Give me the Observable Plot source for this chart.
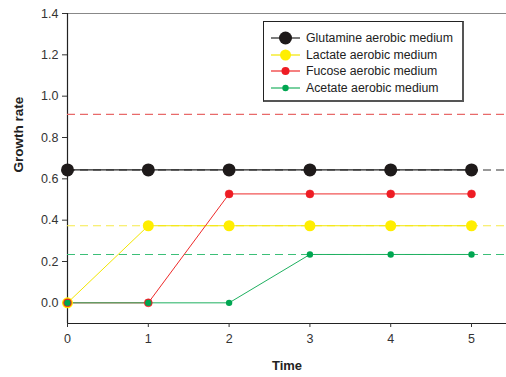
<!DOCTYPE html>
<html>
<head>
<meta charset="utf-8">
<script src="https://cdn.jsdelivr.net/npm/d3@7"></script>
<script src="https://cdn.jsdelivr.net/npm/@observablehq/plot@0.6"></script>
<style>
  body { margin: 0; background: #fff; font-family: "Liberation Sans", Arial, sans-serif; }
  #wrap { position: relative; width: 506px; height: 377px; overflow: hidden; }
  #legend { position: absolute; left: 263px; top: 21px; width: 201px; height: 81px; border: 1px solid #222; border-right: 2px solid #555; border-bottom: 2px solid #555; background: #fff; box-sizing: border-box; }
  .item { position: absolute; left: 0; height: 16px; display: flex; align-items: center; font-size: 12.3px; color: #222; }
  .item svg { margin-left: 7px; margin-right: 6px; }
</style>
</head>
<body>
<div id="wrap"><div id="legend"></div></div>
<script>
// ---- data ----
const times = [0, 1, 2, 3, 4, 5];
const seriesNames = ["Glutamine aerobic medium", "Lactate aerobic medium", "Fucose aerobic medium", "Acetate aerobic medium"];
const glutamine = [0.643, 0.643, 0.643, 0.643, 0.643, 0.643];
const lactate   = [0.0, 0.373, 0.373, 0.373, 0.373, 0.373];
const fucose    = [0.0, 0.0, 0.527, 0.527, 0.527, 0.527];
const acetate   = [0.0, 0.0, 0.0, 0.234, 0.234, 0.234];
const refLevels = [0.643, 0.373, 0.912, 0.234];
const yTicks = [0, 0.2, 0.4, 0.6, 0.8, 1.0, 1.2, 1.4];
const xTicks = [0, 1, 2, 3, 4, 5];

// ---- styles ----
const lineColors = ["#222222", "#f2e600", "#ee2a2a", "#1fb060"];
const dashColors = ["#333333", "#f6ea4a", "#e86a6a", "#3cbf78"];
const dotFill    = ["#1e1a1a", "#ffee00", "#ee1c24", "#00a651"];
const dotR       = [6.5, 5.5, 4, 3.2];

const allSeries = [glutamine, lactate, fucose, acetate];
const rows = [];
allSeries.forEach((vals, si) => times.forEach((t, i) => rows.push({series: si, name: seriesNames[si], t, v: vals[i]})));
const refs = refLevels.map((v, si) => ({series: si, v}));

const xMax = 5.433;

const marks = [
  Plot.ruleY([1.4], {stroke: "#888", strokeWidth: 1.2}),
  Plot.ruleY([-0.1], {stroke: "#222", strokeWidth: 1.2}),
  Plot.ruleX([0], {stroke: "#222", strokeWidth: 1.2}),
  Plot.axisY({ticks: yTicks, tickFormat: d3.format(".1f"), tickSize: 5, tickPadding: 4, fontSize: 12.5, color: "#333", label: null}),
  Plot.axisX({ticks: xTicks, tickFormat: d3.format("d"), tickSize: 4, tickPadding: 7, fontSize: 12.5, color: "#333", label: null, anchor: "bottom"}),
  // dashed reference lines
  ...refs.map(r => Plot.ruleY([r.v], {x1: 0, x2: xMax, stroke: dashColors[r.series], strokeWidth: 1.1, strokeDasharray: "8,5"})),
];
allSeries.forEach((vals, si) => {
  const d = rows.filter(r => r.series === si);
  marks.push(Plot.line(d, {x: "t", y: "v", stroke: lineColors[si], strokeWidth: si === 0 ? 1.3 : 1}));
});
allSeries.forEach((vals, si) => {
  const d = rows.filter(r => r.series === si);
  marks.push(Plot.dot(d, {x: "t", y: "v", r: dotR[si], fill: dotFill[si], stroke: si === 2 ? "#ee1c24" : "none", strokeWidth: 0.5}));
});
marks.push(Plot.text(["Growth rate"], {frameAnchor: "left", dx: -49, dy: 4, rotate: -90, fontWeight: "bold", fontSize: 13.5, fill: "#222"}));
marks.push(Plot.text(["Time"], {frameAnchor: "bottom", dy: 46, fontWeight: "bold", fontSize: 13, fill: "#222"}));

const chart = Plot.plot({
  width: 506,
  height: 377,
  marginLeft: 67,
  marginRight: 0,
  marginTop: 13,
  marginBottom: 54,
  style: {fontFamily: "'Liberation Sans', Arial, sans-serif", background: "#fff", overflow: "visible"},
  x: {domain: [0, xMax]},
  y: {domain: [-0.1, 1.4]},
  marks
});
const wrap = document.getElementById("wrap");
wrap.insertBefore(chart, wrap.firstChild);

// legend
const legend = document.getElementById("legend");
seriesNames.forEach((name, i) => {
  const item = document.createElement("div");
  item.className = "item";
  item.style.top = (8 + i * 16.7) + "px";
  const svg = d3.create("svg").attr("width", 29).attr("height", 14);
  svg.append("line").attr("x1", 0).attr("x2", 29).attr("y1", 7).attr("y2", 7).attr("stroke", lineColors[i]).attr("stroke-width", 1.2);
  svg.append("circle").attr("cx", 14.5).attr("cy", 7).attr("r", dotR[i]).attr("fill", dotFill[i]);
  item.appendChild(svg.node());
  const span = document.createElement("span");
  span.textContent = name;
  item.appendChild(span);
  legend.appendChild(item);
});
</script>
</body>
</html>
